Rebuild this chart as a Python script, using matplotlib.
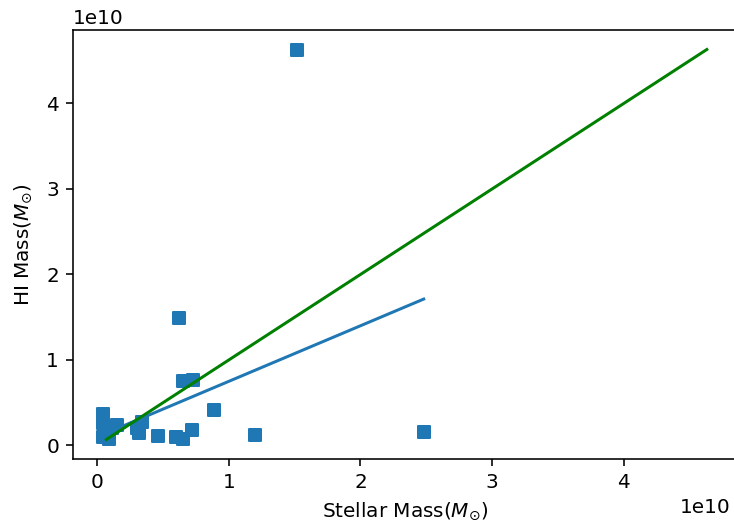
import numpy as np
import matplotlib
matplotlib.use("Agg")
import matplotlib.pyplot as plt

# Stellar and HI masses of the sample (solar masses)
stellar_mass = np.array([
    0.046, 0.046, 0.046, 0.09, 0.11, 0.15, 0.30, 0.34, 0.32, 0.46,
    0.60, 0.655, 0.72, 0.65, 0.73, 0.89, 1.20, 2.48, 0.625, 1.52,
]) * 1e10
hi_mass = np.array([
    0.37, 0.26, 0.10, 0.07, 0.21, 0.24, 0.21, 0.28, 0.15, 0.11,
    0.10, 0.07, 0.18, 0.75, 0.76, 0.42, 0.12, 0.16, 1.49, 4.63,
]) * 1e10

# Linear fit HI = slope * M_star + intercept
fit_slope = 0.65
fit_intercept = 0.10e10

fig = plt.figure(figsize=(734 / 144, 527 / 144), dpi=144)
ax = fig.add_axes([73 / 734, (527 - 459) / 527, (737 - 73) / 734, (459 - 30) / 527])

ax.scatter(stellar_mass, hi_mass, marker="s", s=36, color="#1f77b4", zorder=2)

xfit = np.array([stellar_mass.min(), stellar_mass.max()])
ax.plot(xfit, fit_slope * xfit + fit_intercept, color="#1f77b4", lw=1.5, zorder=3)

one_to_one = np.array([hi_mass.min(), hi_mass.max()])
ax.plot(one_to_one, one_to_one, color="green", lw=1.5, zorder=4)

ax.set_xlabel(r"Stellar Mass($M_{\odot}$)")
ax.set_ylabel(r"HI Mass($M_{\odot}$)", labelpad=6)

# keep the x offset text inside the canvas
ax.xaxis.get_offset_text().set_x(0.99)

fig.savefig("out.png", dpi=144)
